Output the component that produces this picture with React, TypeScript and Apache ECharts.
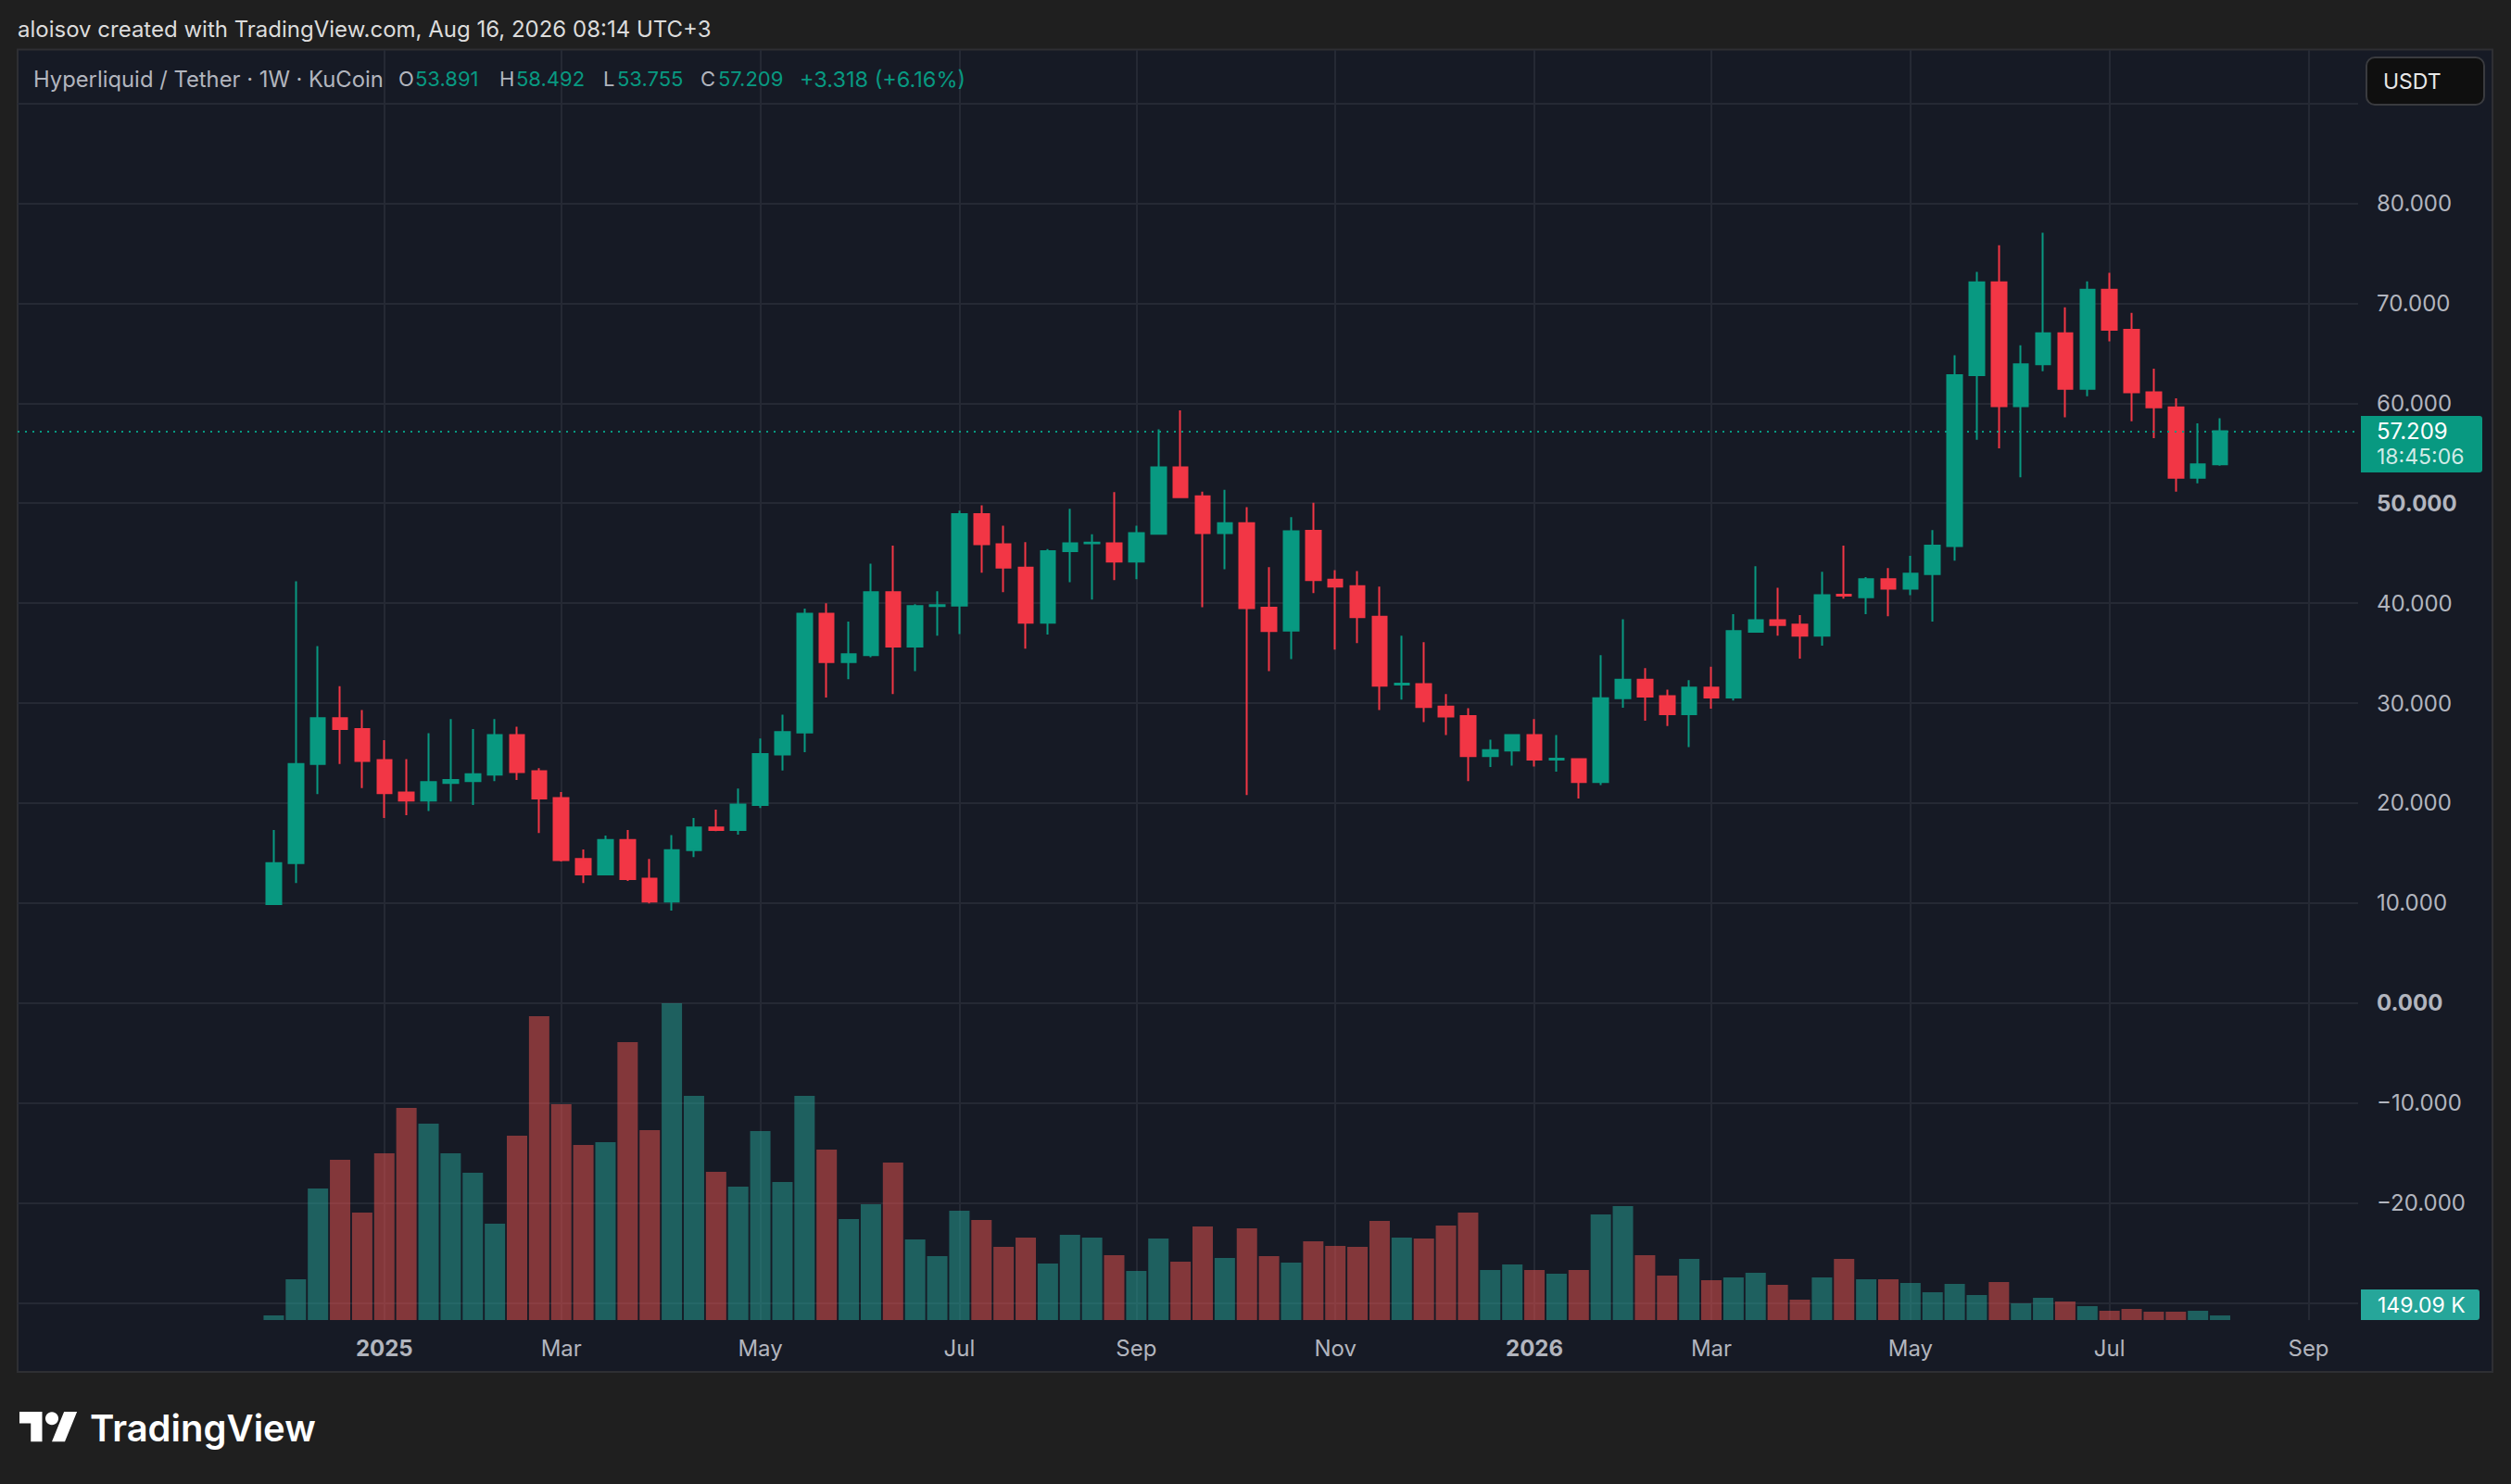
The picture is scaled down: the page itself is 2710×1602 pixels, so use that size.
import React, { useEffect, useRef } from "react";
import * as echarts from "echarts";

// ---------- data ----------
const weekDates = [
  "2024-12-02","2024-12-09","2024-12-16","2024-12-23","2024-12-30",
  "2025-01-06","2025-01-13","2025-01-20","2025-01-27","2025-02-03","2025-02-10","2025-02-17","2025-02-24",
  "2025-03-03","2025-03-10","2025-03-17","2025-03-24","2025-03-31","2025-04-07","2025-04-14","2025-04-21","2025-04-28",
  "2025-05-05","2025-05-12","2025-05-19","2025-05-26","2025-06-02","2025-06-09","2025-06-16","2025-06-23","2025-06-30",
  "2025-07-07","2025-07-14","2025-07-21","2025-07-28","2025-08-04","2025-08-11","2025-08-18","2025-08-25",
  "2025-09-01","2025-09-08","2025-09-15","2025-09-22","2025-09-29","2025-10-06","2025-10-13","2025-10-20","2025-10-27",
  "2025-11-03","2025-11-10","2025-11-17","2025-11-24","2025-12-01","2025-12-08","2025-12-15","2025-12-22","2025-12-29",
  "2026-01-05","2026-01-12","2026-01-19","2026-01-26","2026-02-02","2026-02-09","2026-02-16","2026-02-23",
  "2026-03-02","2026-03-09","2026-03-16","2026-03-23","2026-03-30","2026-04-06","2026-04-13","2026-04-20","2026-04-27",
  "2026-05-04","2026-05-11","2026-05-18","2026-05-25","2026-06-01","2026-06-08","2026-06-15","2026-06-22","2026-06-29",
  "2026-07-06","2026-07-13","2026-07-20","2026-07-27","2026-08-03","2026-08-10"
];

const opens = [
  9.9, 14.0, 23.9, 28.5, 27.4, 24.3, 21.05, 20.25, 22.0, 22.2,
  22.85, 26.8, 23.2, 20.5, 14.4, 12.85, 16.3, 12.45, 10.15, 15.3,
  17.55, 17.3, 19.8, 24.85, 27.05, 38.95, 34.1, 34.8, 41.1, 35.65,
  39.7, 39.75, 48.9, 45.9, 43.55, 38.05, 45.2, 46.0, 46.0, 44.15,
  46.95, 53.6, 50.7, 47.0, 48.0, 39.55, 37.25, 47.25, 42.35, 41.7,
  38.65, 31.85, 31.9, 29.65, 28.7, 24.7, 25.25, 26.8, 24.35, 24.4,
  22.1, 30.5, 32.35, 30.7, 28.9, 31.55, 30.55, 37.15, 38.3, 37.85,
  36.75, 40.85, 40.6, 42.4, 41.45, 42.9, 45.7, 62.8, 72.1, 59.7,
  63.9, 67.0, 61.45, 71.35, 67.35, 61.1, 59.6, 52.55, 53.891
];
const highs = [
  17.3, 42.2, 35.7, 31.7, 29.3, 26.3, 24.4, 27.0, 28.4, 27.4,
  28.4, 27.65, 23.5, 21.1, 15.35, 16.75, 17.3, 14.4, 16.8, 18.5,
  19.35, 21.45, 26.45, 28.85, 39.45, 40.0, 38.15, 43.95, 45.75, 39.9,
  41.2, 49.25, 49.8, 47.75, 46.1, 45.4, 49.45, 46.9, 51.1, 47.75,
  57.4, 59.3, 51.15, 51.35, 49.6, 43.6, 48.6, 50.05, 43.3, 43.2,
  41.65, 36.75, 36.1, 30.9, 29.5, 26.35, 26.85, 28.4, 26.8, 24.45,
  34.8, 38.4, 33.5, 31.35, 32.3, 33.65, 38.9, 43.7, 41.55, 38.8,
  43.15, 45.75, 42.6, 43.5, 44.75, 47.3, 64.8, 73.15, 75.8, 65.8,
  77.05, 69.6, 72.2, 73.05, 69.05, 63.45, 60.5, 58.0, 58.492
];
const lows = [
  9.85, 12.0, 20.9, 23.9, 21.5, 18.5, 18.8, 19.2, 20.15, 19.8,
  22.2, 22.3, 17.0, 14.15, 12.0, 12.85, 12.2, 9.95, 9.25, 14.6,
  17.2, 16.85, 19.5, 23.25, 25.1, 30.55, 32.4, 34.6, 30.9, 33.2,
  36.75, 36.9, 43.05, 41.1, 35.45, 36.85, 42.1, 40.35, 42.3, 42.4,
  46.9, 50.5, 39.6, 43.4, 20.8, 33.2, 34.4, 41.0, 35.35, 36.0,
  29.3, 30.35, 28.1, 26.8, 22.2, 23.6, 23.75, 23.65, 23.15, 20.45,
  21.8, 29.55, 28.25, 27.7, 25.6, 29.45, 30.25, 37.1, 36.75, 34.45,
  35.75, 40.45, 38.9, 38.7, 40.8, 38.15, 44.25, 56.35, 55.5, 52.6,
  63.2, 58.6, 60.7, 66.2, 58.2, 56.5, 51.15, 52.0, 53.755
];
const closes = [
  14.0, 23.9, 28.5, 27.4, 24.2, 21.0, 20.25, 22.1, 22.3, 22.9,
  26.8, 23.1, 20.45, 14.3, 12.85, 16.3, 12.4, 10.15, 15.3, 17.55,
  17.3, 19.85, 24.9, 27.1, 38.95, 34.1, 34.9, 41.1, 35.65, 39.7,
  39.8, 48.9, 45.9, 43.55, 38.05, 45.2, 46.0, 46.05, 44.15, 47.0,
  53.6, 50.6, 47.0, 48.0, 39.5, 37.2, 47.2, 42.3, 41.65, 38.6,
  31.75, 31.95, 29.6, 28.65, 24.7, 25.3, 26.8, 24.35, 24.45, 22.1,
  30.5, 32.35, 30.65, 28.9, 31.55, 30.55, 37.2, 38.3, 37.8, 36.75,
  40.8, 40.75, 42.4, 41.45, 42.95, 45.75, 62.8, 72.1, 59.7, 63.9,
  67.0, 61.45, 71.35, 67.35, 61.1, 59.6, 52.55, 53.891, 57.209
];
// weekly volume, thousands of HYPE
const volumesK = [
  150, 1320, 4260, 5190, 3480, 5400, 6870, 6360, 5400, 4770,
  3120, 5970, 9840, 6990, 5670, 5760, 9000, 6150, 10260, 7260,
  4800, 4320, 6120, 4470, 7260, 5520, 3270, 3750, 5100, 2610,
  2070, 3540, 3240, 2370, 2670, 1830, 2760, 2670, 2100, 1590,
  2640, 1890, 3030, 2010, 2970, 2070, 1860, 2550, 2400, 2370,
  3210, 2670, 2640, 3060, 3480, 1620, 1800, 1620, 1500, 1620,
  3420, 3690, 2100, 1440, 1980, 1290, 1380, 1530, 1140, 660,
  1380, 1980, 1320, 1320, 1200, 900, 1170, 810, 1230, 540,
  720, 600, 450, 300, 360, 270, 270, 300, 149.09
];

const tickDates = [
  "2025-01-06","2025-03-03","2025-05-05","2025-07-07","2025-09-01","2025-11-03",
  "2026-01-05","2026-03-02","2026-05-04","2026-07-06","2026-09-07"
];
const tickLabels = ["2025","Mar","May","Jul","Sep","Nov","2026","Mar","May","Jul","Sep"];
const boldTickLabels = ["2025", "2026"];
const priceLabelValues = [-20, -10, 0, 10, 20, 30, 40, 50, 60, 70, 80];
const priceGridValues = [-30, -20, -10, 0, 10, 20, 30, 40, 50, 60, 70, 80, 90];
const boldPriceValues = [0, 50];

const headerText = "aloisov created with TradingView.com, Aug 16, 2026 08:14 UTC+3";
const symbolTitle = "Hyperliquid / Tether · 1W · KuCoin";
const countdownText = "18:45:06";
const currencyText = "USDT";
const brandText = "TradingView";

// ---------- style / layout ----------
const W = 2710;
const H = 1602;
const FONT = "Inter, 'Noto Sans', Roboto, sans-serif";
const UP = "#089981";
const DOWN = "#f23645";
const VOL_UP = "rgba(38,166,154,0.5)";
const VOL_DOWN = "rgba(239,83,80,0.5)";
const GRID_COLOR = "#252934";
const TEXT = "#b2b5be";
const PANEL_BG = "#161a25";
const OUTER_BG = "#1f1f1f";

const GRID_LEFT = 19;
const GRID_RIGHT_X = 2545;
const GRID_TOP = 54;
const GRID_BOTTOM_Y = 1425;
const X_MIN = -11.58;
const X_MAX = 94.24;
const Y_MIN = -31.72;
const Y_MAX = 95.34;

const WEEK_MS = 7 * 24 * 3600 * 1000;
const weekIndex = (d: string) =>
  Math.round((Date.parse(d) - Date.parse(weekDates[0])) / WEEK_MS);

const fmtPrice = (v: number) =>
  (v < 0 ? "\u2212" : "") + Math.abs(v).toFixed(3);

const TV_LOGO_D = "M14 22H7V11H0V4h14v18zM28 22h-8l7.5-18h8L28 22z";
let logoRegistered = false;

export default function App() {
  const ref = useRef<HTMLDivElement>(null);

  useEffect(() => {
    if (!ref.current) return;
    if (!logoRegistered) {
      echarts.graphic.registerShape(
        "tvlogo",
        echarts.graphic.extendPath(TV_LOGO_D, {}) as any
      );
      logoRegistered = true;
    }
    const chart = echarts.init(ref.current, undefined, { renderer: "svg" });

    const n = closes.length;
    const tickX = tickDates.map(weekIndex);
    const labelByX: Record<number, string> = {};
    tickX.forEach((x, i) => (labelByX[x] = tickLabels[i]));
    const isUp = (i: number) =>
      closes[i] > opens[i] || (closes[i] === opens[i] && i > 0 && closes[i] >= closes[i - 1]);

    const volMax = Math.max(...volumesK) * 4.01;

    const option: any = {
      animation: false,
      backgroundColor: OUTER_BG,
      grid: {
        left: GRID_LEFT,
        top: GRID_TOP,
        width: GRID_RIGHT_X - GRID_LEFT,
        height: GRID_BOTTOM_Y - GRID_TOP,
        containLabel: false,
        outerBoundsMode: "none",
      },
      xAxis: {
        type: "value",
        min: X_MIN,
        max: X_MAX,
        axisLine: { show: false },
        axisTick: { show: false, customValues: tickX },
        splitLine: { show: true, lineStyle: { color: GRID_COLOR, width: 2 } },
        axisLabel: {
          customValues: tickX,
          margin: 18,
          color: TEXT,
          fontSize: 24,
          fontFamily: FONT,
          formatter: (v: number) => {
            const s = labelByX[Math.round(v)] || "";
            return boldTickLabels.includes(s) ? `{b|${s}}` : s;
          },
          rich: { b: { fontWeight: "bold", color: TEXT, fontSize: 24, fontFamily: FONT } },
        },
      },
      yAxis: [
        {
          type: "value",
          position: "right",
          min: Y_MIN,
          max: Y_MAX,
          axisLine: { show: false },
          axisTick: { show: false, customValues: priceGridValues },
          splitLine: { show: true, lineStyle: { color: GRID_COLOR, width: 2 } },
          axisLabel: {
            customValues: priceLabelValues,
            margin: 20,
            align: "left",
            color: TEXT,
            fontSize: 24,
            fontFamily: FONT,
            formatter: (v: number) => {
              const s = fmtPrice(v);
              return boldPriceValues.includes(Math.round(v)) ? `{b|${s}}` : s;
            },
            rich: { b: { fontWeight: "bold", color: TEXT, fontSize: 24, fontFamily: FONT } },
          },
        },
        {
          type: "value",
          min: 0,
          max: volMax,
          show: false,
          splitLine: { show: false },
        },
      ],
      series: [
        {
          type: "bar",
          xAxisIndex: 0,
          yAxisIndex: 1,
          barWidth: 22,
          z: 1,
          data: volumesK.map((v, i) => ({
            value: [i, v],
            itemStyle: { color: isUp(i) ? VOL_UP : VOL_DOWN },
          })),
        },
        {
          type: "candlestick",
          xAxisIndex: 0,
          yAxisIndex: 0,
          barWidth: 16,
          z: 2,
          itemStyle: {
            color: UP,
            color0: DOWN,
            borderColor: UP,
            borderColor0: DOWN,
            borderWidth: 2,
          },
          data: opens.map((o, i) => [i, o, closes[i], lows[i], highs[i]]),
          markLine: {
            silent: true,
            symbol: ["none", "none"],
            label: { show: false },
            lineStyle: { color: UP, type: [2, 6], width: 2 },
            data: [{ yAxis: closes[n - 1] }],
          },
        },
      ],
    };
    chart.setOption(option);

    // ---------- overlays ----------
    const last = n - 1;
    const o = opens[last], h = highs[last], l = lows[last], c = closes[last];
    const prev = closes[last - 1];
    const chg = c - prev;
    const pct = (chg / prev) * 100;
    const chgText = `${chg >= 0 ? "+" : "\u2212"}${Math.abs(chg).toFixed(3)} (${chg >= 0 ? "+" : "\u2212"}${Math.abs(pct).toFixed(2)}%)`;

    const priceY = chart.convertToPixel({ yAxisIndex: 0 } as any, c) as number;
    let volY = chart.convertToPixel({ yAxisIndex: 1 } as any, volumesK[last]) as number;
    volY = Math.min(volY, GRID_BOTTOM_Y - 16.5);

    const txt = (x: number, y: number, text: string, fill: string, size: number, weight: any = "normal", extra: any = {}) => ({
      type: "text",
      x,
      y,
      silent: true,
      z: 10,
      style: {
        text,
        fill,
        fontSize: size,
        fontFamily: FONT,
        fontWeight: weight,
        align: "left",
        verticalAlign: "middle",
        textAlign: "left",
        textVerticalAlign: "middle",
        ...extra,
      },
    });

    const graphics: any[] = [
      {
        type: "rect",
        z: -10,
        silent: true,
        shape: { x: 19, y: 53.5, width: 2671, height: 1427.5 },
        style: { fill: PANEL_BG, stroke: "#2e2f33", lineWidth: 2 },
      },
      txt(19, 31, headerText, "#dcdcdc", 24),
      txt(36, 85, symbolTitle, TEXT, 23.8),
      txt(430, 85, "O", TEXT, 22),
      txt(448, 85, o.toFixed(3), UP, 22),
      txt(539, 85, "H", TEXT, 22),
      txt(557, 85, h.toFixed(3), UP, 22),
      txt(651, 85, "L", TEXT, 22),
      txt(666, 85, l.toFixed(3), UP, 22),
      txt(756, 85, "C", TEXT, 22),
      txt(775, 85, c.toFixed(3), UP, 22),
      txt(863, 85, chgText, chg >= 0 ? UP : DOWN, 23.5),
      // currency button
      {
        type: "rect",
        z: 10,
        silent: true,
        shape: { x: 2554, y: 62, width: 127, height: 51, r: 9 },
        style: { fill: "#0f0f0f", stroke: "#3a3b3f", lineWidth: 2 },
      },
      txt(2572, 87.5, currencyText, "#e8e8e8", 23),
      // last price badge
      {
        type: "rect",
        z: 10,
        silent: true,
        shape: { x: 2548, y: priceY - 16.5, width: 131, height: 61, r: [0, 3, 3, 0] },
        style: { fill: UP },
      },
      txt(2565, priceY, c.toFixed(3), "#ffffff", 24),
      txt(2565, priceY + 28, countdownText, "rgba(255,255,255,0.82)", 23),
      // volume badge
      {
        type: "rect",
        z: 10,
        silent: true,
        shape: { x: 2548, y: volY - 16.5, width: 128, height: 33, r: [0, 3, 3, 0] },
        style: { fill: "#26a69a" },
      },
      txt(2566, volY, `${volumesK[last].toFixed(2)} K`, "#ffffff", 23),
      // brand logo
      {
        type: "tvlogo",
        x: 21,
        y: 1517,
        scaleX: 1.75,
        scaleY: 1.78,
        z: 10,
        silent: true,
        style: { fill: "#ffffff" },
      },
      {
        type: "circle",
        z: 10,
        silent: true,
        shape: { cx: 21 + 20 * 1.75, cy: 1517 + 8 * 1.78, r: 4 * 1.76 },
        style: { fill: "#ffffff" },
      },
      txt(97, 1541, brandText, "#ffffff", 40, 600),
    ];
    chart.setOption({ graphic: graphics });

    return () => chart.dispose();
  }, []);

  return (
    <div
      ref={ref}
      style={{ position: "absolute", left: 0, top: 0, width: W, height: H }}
    />
  );
}
